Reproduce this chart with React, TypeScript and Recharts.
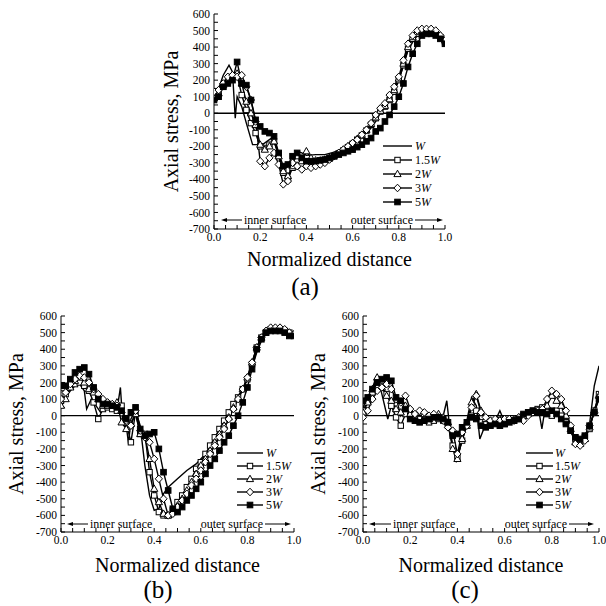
import React from 'react';
import { LineChart, Line, XAxis, YAxis, ReferenceLine } from 'recharts';

const FONT = '"Liberation Serif", "Times New Roman", serif';

// ---------- shared axis values ----------
const xTicks = [0, 0.05, 0.1, 0.15, 0.2, 0.25, 0.3, 0.35, 0.4, 0.45, 0.5, 0.55, 0.6, 0.65, 0.7, 0.75, 0.8, 0.85, 0.9, 0.95, 1];
const yTicks = [-700, -650, -600, -550, -500, -450, -400, -350, -300, -250, -200, -150, -100, -50, 0, 50, 100, 150, 200, 250, 300, 350, 400, 450, 500, 550, 600];
const seriesNames = ['W', '1.5W', '2W', '3W', '5W'];
const xGrid = [0, 0.02, 0.04, 0.06, 0.08, 0.1, 0.12, 0.14, 0.16, 0.18, 0.2, 0.22, 0.24, 0.26, 0.28, 0.3, 0.32, 0.34, 0.36, 0.38, 0.4, 0.42, 0.44, 0.46, 0.48, 0.5, 0.52, 0.54, 0.56, 0.58, 0.6, 0.62, 0.64, 0.66, 0.68, 0.7, 0.72, 0.74, 0.76, 0.78, 0.8, 0.82, 0.84, 0.86, 0.88, 0.9, 0.92, 0.94, 0.96, 0.98, 1];

// ---------- panel (a) ----------
const aW_x = [0, 0.02, 0.04, 0.065, 0.08, 0.092, 0.1, 0.12, 0.14, 0.167, 0.21, 0.24, 0.26, 0.28, 0.3, 0.32, 0.34, 0.36, 0.38, 0.4, 0.44, 0.48, 0.52, 0.56, 0.6, 0.64, 0.68, 0.7, 0.72, 0.74, 0.76, 0.78, 0.8, 0.82, 0.84, 0.86, 0.88, 0.9, 0.92, 0.94, 0.96, 0.98, 1];
const aW_y = [90, 150, 230, 290, 250, -30, 100, 40, -60, -190, -190, -160, -140, -260, -340, -320, -290, -230, -240, -255, -250, -250, -235, -210, -180, -140, -90, -50, 0, 40, 80, 140, 200, 290, 380, 430, 470, 480, 480, 480, 470, 450, 430];
const a15 = [100, 120, 160, 190, 220, 230, 110, 20, -60, -120, -200, -210, -190, -170, -250, -360, -400, -330, -280, -270, -290, -290, -295, -290, -285, -275, -260, -245, -225, -205, -185, -160, -135, -105, -70, -30, 10, 40, 80, 130, 200, 290, 390, 450, 480, 490, 490, 490, 480, 460, 430];
const a2 = [90, 120, 170, 200, 230, 240, 180, 70, 0, -70, -190, -220, -200, -170, -260, -350, -380, -320, -260, -290, -230, -270, -285, -285, -280, -270, -255, -240, -220, -200, -180, -155, -130, -100, -65, -25, 15, 45, 85, 140, 210, 300, 400, 460, 490, 500, 500, 500, 490, 470, 440];
const a3 = [130, 140, 180, 220, 230, 220, 230, 160, 80, -50, -290, -320, -270, -240, -310, -430, -410, -300, -320, -340, -320, -330, -320, -310, -300, -280, -260, -240, -220, -200, -180, -160, -130, -100, -60, -10, 30, 60, 110, 160, 220, 320, 420, 470, 500, 510, 510, 510, 500, 470, 440];
const a5 = [80, 100, 160, 180, 200, 310, 180, 170, 80, -40, -80, -110, -120, -140, -240, -320, -310, -260, -240, -270, -290, -290, -290, -285, -280, -270, -260, -250, -240, -230, -220, -205, -190, -170, -150, -110, -90, -50, -10, 40, 100, 180, 280, 360, 420, 470, 480, 480, 470, 450, 420];

// ---------- panel (b) ----------
const bW_x = [0, 0.02, 0.04, 0.06, 0.08, 0.1, 0.11, 0.13, 0.15, 0.17, 0.2, 0.24, 0.255, 0.265, 0.28, 0.29, 0.3, 0.32, 0.34, 0.36, 0.38, 0.4, 0.42, 0.44, 0.46, 0.5, 0.54, 0.58, 0.62, 0.66, 0.68, 0.7, 0.72, 0.74, 0.76, 0.78, 0.8, 0.82, 0.84, 0.86, 0.88, 0.9, 0.92, 0.94, 0.96, 0.98, 1];
const bW_y = [50, 110, 150, 180, 190, 150, 40, 100, 60, 20, 50, 30, 170, -40, -60, -170, -20, 30, -60, -300, -480, -570, -560, -470, -430, -380, -330, -290, -230, -160, -110, -50, 10, 70, 120, 160, 220, 290, 380, 450, 490, 510, 510, 510, 500, 490, 480];
const b15 = [90, 130, 180, 190, 200, 180, 150, 80, -20, 40, 50, 40, 30, 60, -40, -160, 20, -110, -110, -340, -480, -580, -600, -600, -570, -520, -480, -430, -380, -320, -280, -230, -180, -130, -80, -30, 20, 70, 110, 160, 220, 310, 410, 470, 500, 520, 520, 520, 510, 500, 490];
const b2 = [60, 100, 170, 210, 230, 200, 160, 140, 100, 60, 60, 60, 80, -40, -80, -50, 10, -110, -120, -260, -440, -520, -590, -600, -580, -540, -500, -450, -400, -350, -300, -260, -210, -160, -110, -60, -10, 50, 100, 160, 230, 320, 410, 470, 510, 520, 520, 520, 510, 500, 490];
const b3 = [100, 140, 190, 220, 240, 230, 200, 160, 130, 100, 80, 70, 60, 20, -30, -60, 30, -90, -130, -160, -260, -380, -500, -600, -590, -550, -510, -470, -420, -380, -330, -280, -230, -180, -130, -80, -20, 40, 100, 160, 230, 320, 410, 470, 510, 530, 530, 530, 520, 500, 490];
const b5 = [180, 180, 220, 260, 280, 290, 250, 170, 100, 70, 70, 60, 50, 30, -20, 20, 50, -80, -120, -110, -100, -200, -340, -450, -560, -580, -550, -510, -480, -440, -400, -350, -300, -260, -210, -160, -120, -60, 0, 80, 170, 280, 400, 460, 500, 510, 510, 510, 500, 480, 480];

// ---------- panel (c) ----------
const cW_x = [0, 0.02, 0.04, 0.06, 0.08, 0.105, 0.12, 0.14, 0.16, 0.18, 0.2, 0.24, 0.28, 0.32, 0.34, 0.355, 0.365, 0.38, 0.395, 0.41, 0.43, 0.46, 0.48, 0.495, 0.52, 0.56, 0.58, 0.6, 0.64, 0.68, 0.72, 0.745, 0.758, 0.77, 0.8, 0.82, 0.84, 0.86, 0.88, 0.9, 0.92, 0.94, 0.96, 0.98, 1];
const cW_y = [50, 110, 170, 240, 130, -20, 60, 110, 0, 50, 10, 0, -10, 0, 0, 90, -40, -180, -280, -200, -100, 110, 60, -140, -50, -30, 30, -40, -20, 0, 20, 30, -80, 30, 150, 110, 60, -20, -100, -150, -170, -130, -50, 180, 300];
const c15 = [30, 90, 140, 200, 180, 130, 60, -10, -60, 10, 0, -10, -20, -30, -40, -30, -20, -30, -60, -180, -250, -150, -60, 0, 30, -40, -50, -40, -40, -50, -50, -30, -30, -20, 0, 20, 30, 40, 50, 20, 0, 30, 0, -40, -90, -140, -160, -130, -80, 30, 130];
const c2 = [20, 80, 160, 230, 170, 120, 90, 40, 20, 60, 10, -10, 20, 10, -20, 0, 10, -10, -40, -200, -260, -140, -60, 80, 130, 30, -20, -30, -30, -20, -40, -30, -20, -10, 0, 10, 20, 30, 40, 60, 120, 90, 60, 0, -80, -160, -170, -140, -70, 30, 120];
const c3 = [-10, 30, 100, 150, 170, 190, 160, 100, 80, 120, 40, 10, 30, 20, 0, 10, -10, -30, -70, -90, -230, -100, -60, 50, 120, 20, -10, -30, -20, -30, -20, -20, -30, -10, -30, 0, 20, 30, 40, 100, 150, 130, 100, 30, -60, -170, -180, -150, -60, 20, 110];
const c5 = [90, 110, 160, 200, 220, 230, 210, 110, 90, 40, -20, -30, -40, -30, -20, -10, -10, -20, -40, -120, -110, -70, -40, -10, -20, -60, -70, -60, -50, -60, -50, -40, -30, -20, 10, 20, 30, 20, 20, 10, 30, 10, -20, -50, -90, -130, -140, -120, -60, 20, 100];

type Shape = 'none' | 'sq' | 'tri' | 'dia' | 'fsq';
const shapes: Shape[] = ['none', 'sq', 'tri', 'dia', 'fsq'];

const pts = (xs: number[], ys: number[]) => xs.map((x, i) => ({ x, y: ys[i] }));

function Marker({ shape, cx, cy }: { shape: Shape; cx: number; cy: number }) {
  const sw = 1;
  if (shape === 'sq') return <rect x={cx - 2.7} y={cy - 2.7} width={5.4} height={5.4} fill="#fff" stroke="#000" strokeWidth={sw} />;
  if (shape === 'fsq') return <rect x={cx - 2.8} y={cy - 2.8} width={5.6} height={5.6} fill="#000" stroke="#000" strokeWidth={sw} />;
  if (shape === 'tri')
    return <polygon points={`${cx},${cy - 3.8} ${cx - 3.6},${cy + 2.6} ${cx + 3.6},${cy + 2.6}`} fill="#fff" stroke="#000" strokeWidth={sw} />;
  if (shape === 'dia')
    return <polygon points={`${cx},${cy - 3.8} ${cx + 3.6},${cy} ${cx},${cy + 3.8} ${cx - 3.6},${cy}`} fill="#fff" stroke="#000" strokeWidth={sw} />;
  return null;
}

const dotFor = (shape: Shape) => (p: any) => {
  if (p.cx == null || p.cy == null) return <g key={p.index} />;
  return (
    <g key={p.index}>
      <Marker shape={shape} cx={p.cx} cy={p.cy} />
    </g>
  );
};

const fmtX = (v: number) => (Math.abs(v * 5 - Math.round(v * 5)) < 1e-6 ? v.toFixed(1) : '');
const fmtY = (v: number) => (v % 100 === 0 ? String(v) : '');

const tickStyle = { fill: '#000', fontSize: 11.5, fontFamily: FONT };

type Series = { xs: number[]; ys: number[] }[];

function Panel(props: {
  left: number;
  top: number;
  width: number;
  height: number;
  margin: { top: number; right: number; bottom: number; left: number };
  series: Series;
  yDx: number;
  xDy: number;
}) {
  const { left, top, width, height, margin, series, yDx, xDy } = props;
  return (
    <div style={{ position: 'absolute', left, top, fontFamily: FONT }}>
      <LineChart width={width} height={height} margin={margin}>
        <XAxis
          type="number"
          dataKey="x"
          domain={[0, 1]}
          allowDataOverflow
          ticks={xTicks}
          interval={0}
          tickFormatter={fmtX}
          tickSize={-4}
          tickMargin={8}
          height={50}
          stroke="#000"
          tick={tickStyle}
          label={{ value: 'Normalized distance', position: 'center', dy: xDy, fontSize: 20, fontFamily: FONT, fill: '#000' }}
        />
        <XAxis xAxisId="top" orientation="top" type="number" domain={[0, 1]} ticks={xTicks} interval={0} tick={false} tickSize={-4} height={0} stroke="#000" />
        <YAxis
          type="number"
          domain={[-700, 600]}
          allowDataOverflow
          ticks={yTicks}
          interval={0}
          tickFormatter={fmtY}
          tickSize={-4}
          tickMargin={8}
          width={40}
          stroke="#000"
          tick={tickStyle}
          label={{ value: 'Axial stress, MPa', angle: -90, position: 'center', dx: yDx, fontSize: 20, fontFamily: FONT, fill: '#000' }}
        />
        <YAxis yAxisId="right" orientation="right" type="number" domain={[-700, 600]} ticks={yTicks} interval={0} tick={false} tickSize={-4} width={0} stroke="#000" />
        <ReferenceLine y={0} stroke="#000" strokeWidth={1.3} />
        {series.map((s, i) => (
          <Line
            key={seriesNames[i]}
            name={seriesNames[i]}
            data={pts(s.xs, s.ys)}
            dataKey="y"
            type="linear"
            stroke="#000"
            strokeWidth={1.4}
            dot={shapes[i] === 'none' ? false : dotFor(shapes[i])}
            activeDot={false}
            isAnimationActive={false}
          />
        ))}
      </LineChart>
    </div>
  );
}

function LegendBox({ x0, x1, tx, y0, step }: { x0: number; x1: number; tx: number; y0: number; step: number }) {
  return (
    <g>
      {seriesNames.map((n, i) => {
        const y = y0 + i * step;
        const num = n.slice(0, -1);
        return (
          <g key={n}>
            <line x1={x0} x2={x1} y1={y} y2={y} stroke="#000" strokeWidth={1.4} />
            <Marker shape={shapes[i]} cx={(x0 + x1) / 2} cy={y} />
            <text x={tx} y={y + 4} fontSize={12} fontFamily={FONT} fill="#000">
              {num}
              <tspan fontStyle="italic">W</tspan>
            </text>
          </g>
        );
      })}
    </g>
  );
}

function Surface({ y, innerHead, innerText, outerTextEnd, outerHead }: { y: number; innerHead: number; innerText: number; outerTextEnd: number; outerHead: number }) {
  return (
    <g>
      <polygon points={`${innerHead},${y} ${innerHead + 6},${y - 2} ${innerHead + 6},${y + 2}`} fill="#000" />
      <line x1={innerHead + 5} x2={innerText - 2} y1={y} y2={y} stroke="#000" strokeWidth={1} />
      <text x={innerText} y={y + 4} fontSize={12} fontFamily={FONT} fill="#000">inner surface</text>
      <text x={outerTextEnd} y={y + 4} fontSize={12} fontFamily={FONT} fill="#000" textAnchor="end">outer surface</text>
      <line x1={outerTextEnd + 2} x2={outerHead - 5} y1={y} y2={y} stroke="#000" strokeWidth={1} />
      <polygon points={`${outerHead},${y} ${outerHead - 6},${y - 2} ${outerHead - 6},${y + 2}`} fill="#000" />
    </g>
  );
}

export default function App() {
  const seriesA: Series = [
    { xs: aW_x, ys: aW_y },
    { xs: xGrid, ys: a15 },
    { xs: xGrid, ys: a2 },
    { xs: xGrid, ys: a3 },
    { xs: xGrid, ys: a5 },
  ];
  const seriesB: Series = [
    { xs: bW_x, ys: bW_y },
    { xs: xGrid, ys: b15 },
    { xs: xGrid, ys: b2 },
    { xs: xGrid, ys: b3 },
    { xs: xGrid, ys: b5 },
  ];
  const seriesC: Series = [
    { xs: cW_x, ys: cW_y },
    { xs: xGrid, ys: c15 },
    { xs: xGrid, ys: c2 },
    { xs: xGrid, ys: c3 },
    { xs: xGrid, ys: c5 },
  ];
  return (
    <div style={{ position: 'absolute', left: 0, top: 0, width: 606, height: 606, background: '#fff', overflow: 'hidden' }}>
      <Panel left={140} top={0} width={320} height={305} margin={{ top: 14, right: 15, bottom: 26, left: 34 }} series={seriesA} yDx={-23} xDy={5} />
      <Panel left={0} top={300} width={306} height={306} margin={{ top: 16, right: 12, bottom: 24, left: 21 }} series={seriesB} yDx={-25} xDy={8} />
      <Panel left={300} top={300} width={306} height={306} margin={{ top: 16, right: 7, bottom: 24, left: 23 }} series={seriesC} yDx={-25} xDy={8} />
      <svg width={606} height={606} style={{ position: 'absolute', left: 0, top: 0, pointerEvents: 'none' }}>
        <LegendBox x0={383} x1={412} tx={415} y0={146} step={14} />
        <LegendBox x0={237} x1={263} tx={266} y0={453} step={13} />
        <LegendBox x0={526} x1={553} tx={555} y0={453} step={13} />
        <Surface y={220} innerHead={221} innerText={244} outerTextEnd={413} outerHead={443} />
        <Surface y={524} innerHead={67} innerText={90} outerTextEnd={263} outerHead={291} />
        <Surface y={524} innerHead={369} innerText={393} outerTextEnd={567} outerHead={594} />
        <text x={305} y={295} fontSize={25} fontFamily={FONT} textAnchor="middle" fill="#000">(a)</text>
        <text x={158} y={598} fontSize={25} fontFamily={FONT} textAnchor="middle" fill="#000">(b)</text>
        <text x={465} y={598} fontSize={25} fontFamily={FONT} textAnchor="middle" fill="#000">(c)</text>
      </svg>
    </div>
  );
}
